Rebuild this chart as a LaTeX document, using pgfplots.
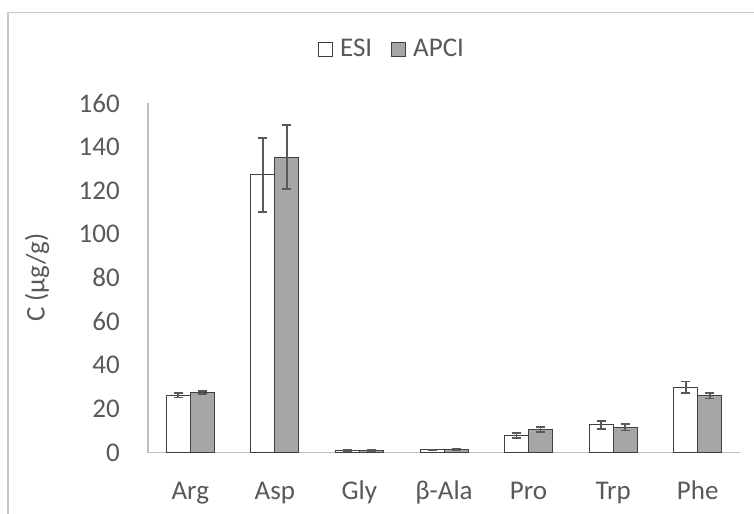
\documentclass[border=0pt]{standalone}
\usepackage{fontspec}
\setmainfont{Carlito}
\usepackage{pgfplots}
\usepackage{pgfplotstable}
\pgfplotsset{compat=1.18}

\definecolor{txt}{HTML}{595959}
\definecolor{axisgray}{HTML}{BFBFBF}
\definecolor{framegray}{HTML}{C8C8C8}
\definecolor{apci}{HTML}{A6A6A6}
\definecolor{edge}{HTML}{404040}
\definecolor{err}{HTML}{595959}

% mean concentration and standard deviation per amino acid
\pgfplotstableread{
x esi   esierr apci  apcierr
0 26.2  1.05   27.4  0.75
1 127.1 16.9   135.2 14.6
2 0.8   0.2    0.9   0.2
3 1.2   0.2    1.4   0.2
4 7.7   1.2    10.6  1.1
5 12.6  1.9    11.5  1.4
6 29.8  2.7    26.0  1.3
}\conc

\begin{document}
\fontsize{27bp}{32bp}\selectfont
\begin{tikzpicture}
\useasboundingbox (0bp,0bp) rectangle (754bp,514bp);
\fill[white] (0bp,0bp) rectangle (754bp,514bp);
\draw[framegray, line width=1.3bp] (8bp,-5bp) -- (8bp,501.3bp) -- (760bp,501.3bp);
\begin{axis}[
  at={(148bp,61.5bp)}, anchor=south west,
  scale only axis, width=592bp, height=349.5bp,
  xmin=-0.5, xmax=6.5, ymin=0, ymax=160,
  ybar=0pt, bar width=24bp,
  axis x line*=bottom, axis y line*=left,
  axis line style={axisgray, line width=1.3bp, -},
  major tick length=0pt,
  xtick=data, xticklabels={Arg,Asp,Gly,β-Ala,Pro,Trp,Phe},
  ytick={0,20,...,160},
  tick label style={text=txt},
  /pgf/number format/assume math mode=true,
  xticklabel style={anchor=base, inner sep=0pt, yshift=-46.5bp},
  yticklabel style={anchor=east, inner sep=0pt, xshift=-28bp},
  ylabel={C (µg/g)},
  ylabel style={at={(axis description cs:-0.1875,0.5)}, anchor=center, text=txt, inner sep=0pt},
  legend style={at={(axis description cs:0.4105,1.1517)}, anchor=center,
    draw=none, fill=none, text=txt, inner sep=0pt, legend columns=2,
    nodes={inner sep=0pt},
    /tikz/every odd column/.append style={column sep=7bp},
    /tikz/every even column/.append style={column sep=19bp}},
  legend image code/.code={\draw[#1, line width=1bp] (0bp,-7bp) rectangle (14bp,7bp);},
  every axis plot/.append style={line width=1bp},
  error bars/error bar style={err, line width=1.8bp},
  error bars/error mark options={rotate=90, err, line width=1.8bp, mark size=4.5bp},
]
\addplot[fill=white, draw=edge,
  error bars/.cd, y dir=both, y explicit]
  table[x=x, y=esi, y error=esierr] {\conc};
\addlegendentry{ESI}
\addplot[fill=apci, draw=edge,
  error bars/.cd, y dir=both, y explicit]
  table[x=x, y=apci, y error=apcierr] {\conc};
\addlegendentry{APCI}
\end{axis}
\end{tikzpicture}
\end{document}
